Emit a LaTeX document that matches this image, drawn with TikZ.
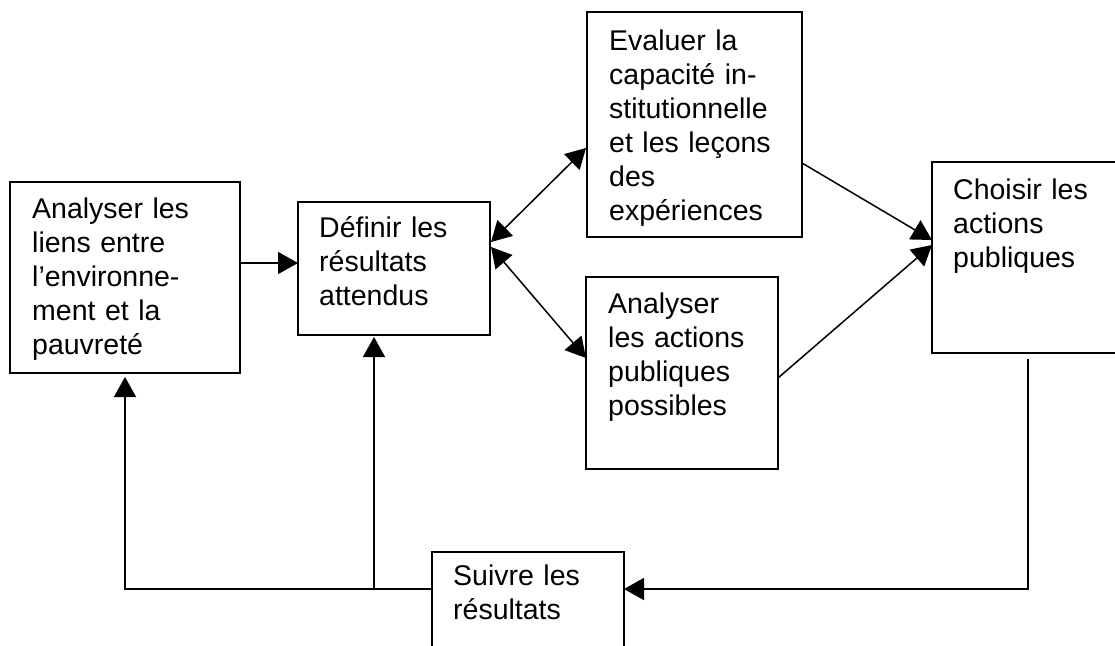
\documentclass[tikz,border=0pt]{standalone}
\usepackage{fontspec}
\setmainfont{Liberation Sans}
\usetikzlibrary{arrows.meta,calc}
\begin{document}
\begin{tikzpicture}[x=1pt,y=-1pt,
  box/.style={draw, line width=1.6pt, inner sep=0pt, outer sep=0pt, anchor=north west},
  txt/.style={anchor=base west, inner sep=0pt, align=left, text width=260pt,
              font=\fontsize{28.5}{34}\selectfont},
  arr/.style={line width=1.5pt, -{Triangle[length=20pt,width=22pt]}},
  darr/.style={line width=1.5pt, {Triangle[length=20pt,width=22pt]}-{Triangle[length=20pt,width=22pt]}}]
\useasboundingbox (0,0) rectangle (1115,645);
% boxes
\node[box, minimum width=230pt, minimum height=191pt] (A) at (10,182) {};
\node[box, minimum width=192pt, minimum height=133pt] (B) at (298,202) {};
\node[box, minimum width=215pt, minimum height=225pt] (C) at (587,12) {};
\node[box, minimum width=192pt, minimum height=192pt] (D) at (586,277) {};
\node[box, minimum width=200pt, minimum height=191pt] (E) at (932,162) {};
\node[box, minimum width=192pt, minimum height=110pt] (F) at (432,552) {};
% texts
\node[txt] (tA) at ($(A.north west)+(22,36)$) {Analyser les\\liens entre\\l’environne-\\ment et la\\pauvreté};
\node[txt] (tB) at ($(B.north west)+(21,35)$) {Définir les\\résultats\\attendus};
\node[txt] (tC) at ($(C.north west)+(22,38)$) {Evaluer la\\capacité in-\\stitutionnelle\\et les leçons\\des\\expériences};
\node[txt] (tD) at ($(D.north west)+(22,36)$) {Analyser\\les actions\\publiques\\possibles};
\node[txt] (tE) at ($(E.north west)+(21,37)$) {Choisir les\\actions\\publiques};
\node[txt] (tF) at ($(F.north west)+(21,33)$) {Suivre les\\résultats};
% connectors
\draw[arr] ($(A.north east)+(0,81)$) -- ($(B.north west)+(0,61)$);
\draw[darr] ($(B.north east)+(1,40)$) -- ($(C.north west)+(-1,136)$);
\draw[darr] ($(B.north east)+(1,45)$) -- ($(D.north west)+(0,81)$);
\draw[arr] ($(C.north east)+(0,151)$) -- ($(E.north west)+(0,78)$);
\draw[arr] ($(D.north east)+(0,101)$) -- ($(E.north west)+(0,83)$);
\coordinate (e1) at ($(E.south west)+(96,6)$);
\draw[arr] (e1) |- ($(F.north east)+(0,37)$);
\coordinate (j) at ($(F.north west)+(0,37)$);
\draw[arr] (j) -| ($(A.south west)+(115,4)$);
\coordinate (k) at ($(B.south west)+(76,254)$);
\draw[arr] (k) -- ($(B.south west)+(76,2)$);
\end{tikzpicture}
\end{document}
